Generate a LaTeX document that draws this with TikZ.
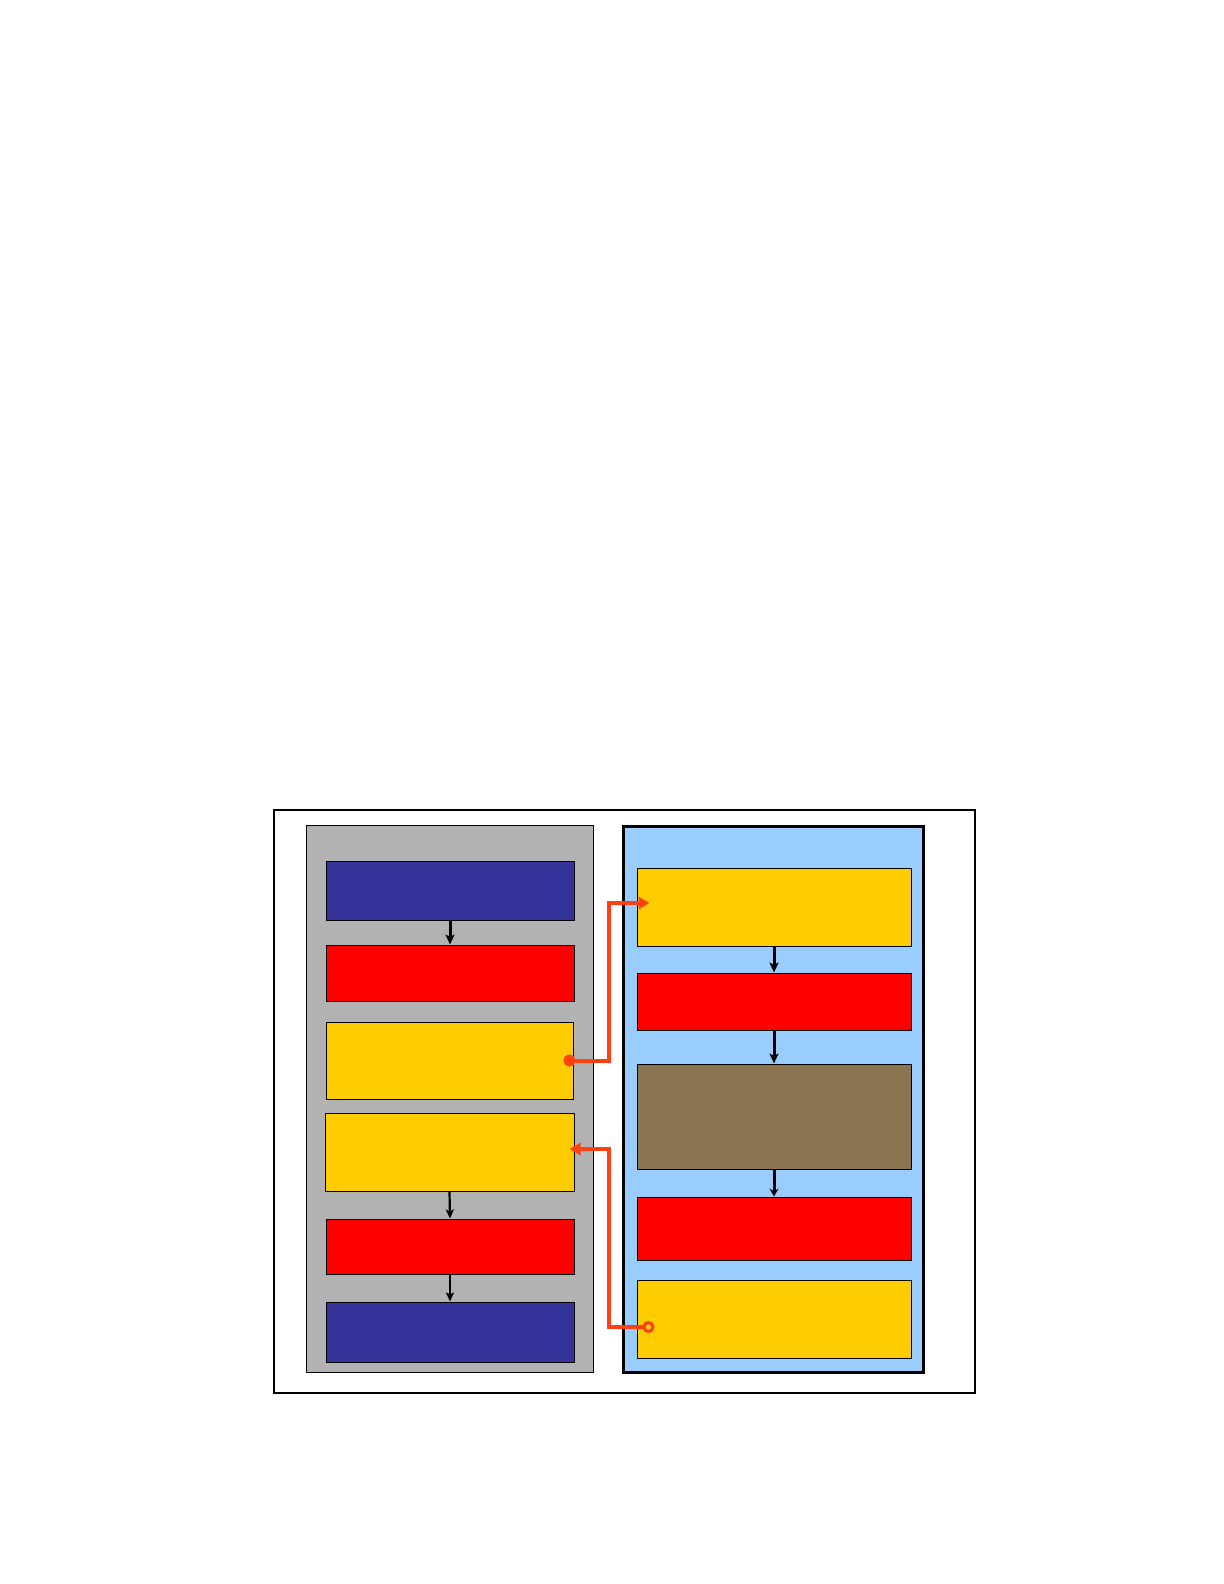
\documentclass[tikz,border=0pt]{standalone}
\usetikzlibrary{arrows.meta,fit}
\definecolor{navy}{HTML}{333399}
\definecolor{bred}{HTML}{FF0000}
\definecolor{byellow}{HTML}{FFCC00}
\definecolor{bbrown}{HTML}{8B7450}
\definecolor{pgray}{HTML}{B2B2B2}
\definecolor{pblue}{HTML}{99CCFF}
\definecolor{conn}{HTML}{FF4010}
\tikzset{
  box/.style={draw=black, line width=0.5pt, inner sep=0pt, rectangle},
  arr/.style={draw=black, line width=1.5pt, -{Stealth[length=5pt,width=4.5pt,inset=1.2pt]}},
  thinarr/.style={draw=black, line width=1.1pt, -{Stealth[length=4.5pt,width=4pt,inset=1pt]}},
  oc/.style={draw=conn, line width=2pt},
}
\begin{document}
\begin{tikzpicture}[x=0.5pt,y=-0.5pt]
\useasboundingbox (0,0) rectangle (1224,1584);
\fill[white] (0,0) rectangle (1224,1584);
% outer frame
\draw[line width=0.6pt] (274,810) rectangle (975,1393);
% panels
\node[box, fill=pgray, fit={(306,825) (593,1372)}] (lp) {};
\node[box, fill=pblue, line width=1.5pt, fit={(623,826) (923,1372)}] (rp) {};
% left column
\node[box, fill=navy, fit={(326,861) (574,920)}] (lb1) {};
\node[box, fill=bred, fit={(326,945) (574,1001)}] (lr1) {};
\node[box, fill=byellow, fit={(326,1022) (573,1099)}] (ly1) {};
\node[box, fill=byellow, fit={(325,1113) (574,1191)}] (ly2) {};
\node[box, fill=bred, fit={(326,1219) (574,1274)}] (lr2) {};
\node[box, fill=navy, fit={(326,1302) (574,1362)}] (lb2) {};
% right column
\node[box, fill=byellow, fit={(637,868) (911,946)}] (ry1) {};
\node[box, fill=bred, fit={(637,973) (911,1030)}] (rr1) {};
\node[box, fill=bbrown, fit={(637,1064) (911,1169)}] (rbr) {};
\node[box, fill=bred, fit={(637,1197) (911,1260)}] (rr2) {};
\node[box, fill=byellow, fit={(637,1280) (911,1358)}] (ry2) {};
% black arrows
\draw[arr] (lb1.south) -- (lr1.north);
\draw[thinarr] (ly2.south) -- (lr2.north);
\draw[thinarr] (lr2.south) -- (lb2.north);
\draw[arr] (ry1.south) -- (rr1.north);
\draw[arr] (rr1.south) -- (rbr.north);
\draw[arr, -{Stealth[length=4pt,width=4.5pt,inset=1.5pt,open,fill=white]}] (rbr.south) -- (rr2.north);
% orange connectors
\coordinate (bus) at (609,1000);
\coordinate (s1) at ([xshift=-5pt]ly1.east);
\coordinate (e1) at ([xshift=6.5pt,yshift=2pt]ry1.west);
\draw[oc, {Circle[length=6pt]}-{Triangle[length=5.5pt,width=6pt]}] (s1) -| (bus |- e1) -- (e1);
\coordinate (s2) at ([xshift=9pt,yshift=-4pt]ry2.west);
\coordinate (e2) at ([xshift=-2.5pt,yshift=1.5pt]ly2.east);
\draw[oc, {Circle[open,length=6pt,line width=1.5pt]}-{Triangle[length=5.5pt,width=6pt]}] (s2) -| (bus |- e2) -- (e2);
\end{tikzpicture}
\end{document}
